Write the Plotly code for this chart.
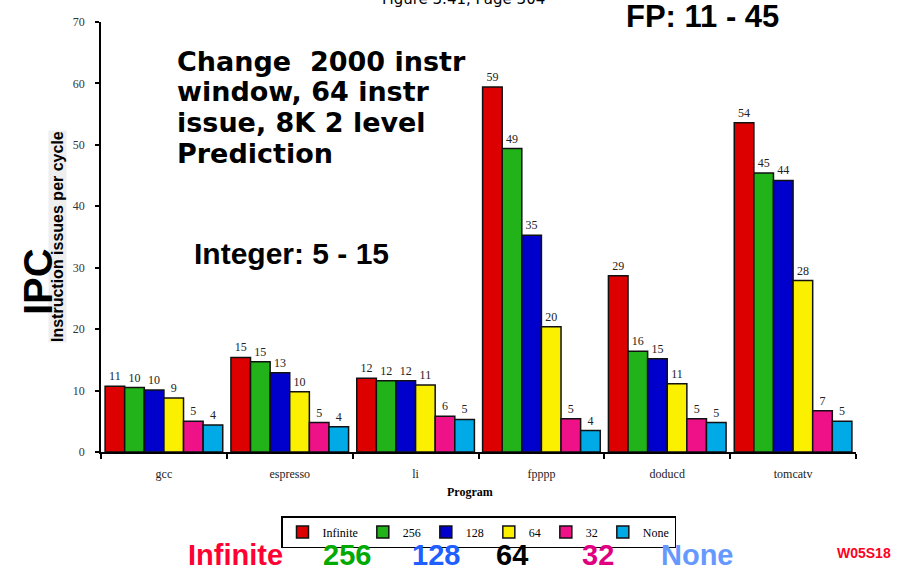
import plotly.graph_objects as go

programs = ["gcc", "espresso", "li", "fpppp", "doducd", "tomcatv"]
series_names = ["Infinite", "256", "128", "64", "32", "None"]
infinite = [10.7, 15.4, 12.0, 59.4, 28.7, 53.6]
w256 = [10.5, 14.7, 11.6, 49.4, 16.4, 45.4]
w128 = [10.1, 12.9, 11.6, 35.3, 15.2, 44.2]
w64 = [8.8, 9.8, 10.9, 20.4, 11.1, 27.9]
w32 = [5.0, 4.8, 5.8, 5.4, 5.4, 6.7]
none = [4.4, 4.1, 5.3, 3.5, 4.8, 5.0]
series_values = [infinite, w256, w128, w64, w32, none]
bar_colors = ["#dd0000", "#22b21a", "#0000cc", "#fbf000", "#ee1188", "#00aae6"]

W, H = 908, 573
L, R, T, B = 101, 52, 22, 121
PW, PH = W - L - R, H - T - B

def px(x):
    return (x - L) / PW

def py(y):
    return (H - B - y) / PH

SERIF = "Liberation Serif, Times New Roman, serif"
SANS = "Liberation Sans, Arial, sans-serif"
COMIC = "DejaVu Sans, sans-serif"

fig = go.Figure()
for name, vals, col in zip(series_names, series_values, bar_colors):
    fig.add_trace(go.Bar(
        x=programs, y=vals, name=name,
        marker=dict(color=col, line=dict(color="#111111", width=1.5)),
        text=[str(int(round(v))) for v in vals],
        textposition="outside",
        textfont=dict(family=SERIF, size=12, color="#222222"),
        cliponaxis=False,
    ))

fig.update_layout(
    width=W, height=H,
    margin=dict(l=L, r=R, t=T, b=B),
    paper_bgcolor="white", plot_bgcolor="white",
    barmode="group", bargap=0.065, bargroupgap=0,
    showlegend=True,
    legend=dict(orientation="h", x=0.5, xanchor="center", y=py(516), yanchor="top",
                bordercolor="black", borderwidth=1.5,
                font=dict(family=SERIF, size=12, color="black"),
                itemwidth=30, tracegroupgap=0),
    xaxis=dict(showline=True, linecolor="black", linewidth=1.5,
               ticks="outside", ticklen=5, tickcolor="black", tickwidth=1.5,
               tickson="boundaries", showgrid=False,
               tickfont=dict(family=SERIF, size=12, color="#222222"),
               ticklabelstandoff=10),
    yaxis=dict(range=[0, 70], dtick=10, showline=True, linecolor="black", linewidth=1.5,
               ticks="outside", ticklen=4, tickcolor="black", tickwidth=1.5,
               showgrid=False, zeroline=False,
               tickfont=dict(family=SERIF, size=12, color="#333333"),
               ticklabelstandoff=8),
)

anns = []
anns.append(dict(x=px(463), y=py(-1), text="Figure 3.41, Page 304",
                 font=dict(family=COMIC, size=15, color="black"), xanchor="center", yanchor="middle"))
anns.append(dict(x=px(702), y=py(17), text="<b>FP: 11 - 45</b>",
                 font=dict(family=SANS, size=31, color="black"), xanchor="center", yanchor="middle"))
anns.append(dict(x=px(291), y=py(254), text="<b>Integer: 5 - 15</b>",
                 font=dict(family=SANS, size=30, color="black"), xanchor="center", yanchor="middle"))
change_lines = ["Change  2000 instr", "window, 64 instr", "issue, 8K 2 level", "Prediction"]
for i, line in enumerate(change_lines):
    anns.append(dict(x=px(175), y=py(61 + 30.7 * i), text="<b>" + line + "</b>",
                     font=dict(family=COMIC, size=27, color="black"), xanchor="left", yanchor="middle"))
anns.append(dict(x=px(57), y=py(237), text="<b>Instruction issues per cycle</b>", textangle=-90,
                 font=dict(family=SANS, size=16, color="black"), bgcolor="#eeeeee",
                 xanchor="center", yanchor="middle", borderpad=0))
anns.append(dict(x=px(38), y=py(282), text="<b>IPC</b>", textangle=-90,
                 font=dict(family=SANS, size=40, color="black"), xanchor="center", yanchor="middle"))
anns.append(dict(x=px(470), y=py(492), text="<b>Program</b>",
                 font=dict(family=SERIF, size=12, color="black"), xanchor="center", yanchor="middle"))
bottom = [("Infinite", "#ff0033", 235), ("256", "#00aa00", 347), ("128", "#1f5fff", 436),
          ("64", "#000000", 512), ("32", "#e0007f", 598), ("None", "#6699ff", 697)]
for t, c, xc in bottom:
    anns.append(dict(x=px(xc), y=py(555), text="<b>" + t + "</b>",
                     font=dict(family=SANS, size=29, color=c), xanchor="center", yanchor="middle"))
anns.append(dict(x=px(864), y=py(553), text="<b>W05S18</b>",
                 font=dict(family=SANS, size=14, color="#ff0022"), xanchor="center", yanchor="middle"))
for a in anns:
    a.update(xref="paper", yref="paper", showarrow=False)
fig.update_layout(annotations=anns)

fig.write_html("out.html", config={"displayModeBar": False},
               post_script="document.body.style.margin='0px';document.body.style.overflow='hidden';")
